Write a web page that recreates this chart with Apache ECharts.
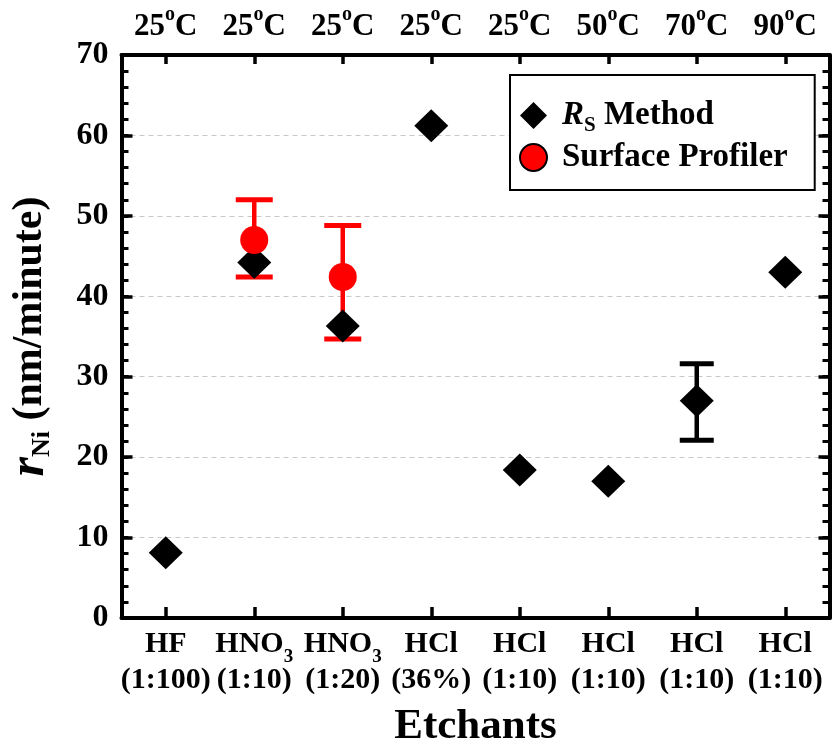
<!DOCTYPE html>
<html><head><meta charset="utf-8">
<script src="https://cdn.jsdelivr.net/npm/echarts@6/dist/echarts.min.js"></script>
<style>html,body{margin:0;padding:0;background:#fff}#c{width:833px;height:744px}</style>
</head><body><div id="c"></div>
<script>
// ---- data ----
const etchants = ['HF', 'HNO3', 'HNO3', 'HCl', 'HCl', 'HCl', 'HCl', 'HCl'];
const dilutions = ['(1:100)', '(1:10)', '(1:20)', '(36%)', '(1:10)', '(1:10)', '(1:10)', '(1:10)'];
const temperatures = [25, 25, 25, 25, 25, 50, 70, 90];
const rsMethod = [8.1, 44.2, 36.3, 61.2, 18.4, 17.0, 27.0, 43.0];
const rsErrIndex = [6];
const rsErrLow = [22.1];
const rsErrHigh = [31.6];
const profilerIndex = [1, 2];
const profiler = [47.0, 42.4];
const profilerErrLow = [42.4, 34.7];
const profilerErrHigh = [52.0, 48.8];
const yMin = 0, yMax = 70, yStep = 10, yMinorStep = 2;

const FONT = '"Liberation Serif", "Times New Roman", serif';
const cats = etchants.map((e, i) => String(i));

function errRender(color, capW) {
  return function (params, api) {
    const x = api.value(0), lo = api.value(1), hi = api.value(2);
    const a = api.coord([x, lo]), b = api.coord([x, hi]);
    const hw = capW / 2;
    const st = { stroke: color, lineWidth: 5 };
    return { type: 'group', children: [
      { type: 'line', shape: { x1: a[0], y1: a[1], x2: b[0], y2: b[1] }, style: { stroke: color, lineWidth: 4.5 } },
      { type: 'line', shape: { x1: a[0] - hw, y1: a[1], x2: a[0] + hw, y2: a[1] }, style: st },
      { type: 'line', shape: { x1: b[0] - hw, y1: b[1], x2: b[0] + hw, y2: b[1] }, style: st }
    ]};
  };
}

const chart = echarts.init(document.getElementById('c'), null, { renderer: 'canvas' });
const axisLineStyle = { color: '#000', width: 4 };
function minorAxis(pos) {
  return {
    type: 'value', min: yMin, max: yMax, interval: yMinorStep, position: pos,
    axisLine: { show: false, onZero: false },
    axisTick: { show: true, inside: true, length: 7, lineStyle: { color: '#000', width: 3 } },
    axisLabel: { show: false }, splitLine: { show: false }
  };
}
chart.setOption({
  animation: false,
  backgroundColor: '#fff',
  grid: { left: 121.5, right: 3.5, top: 55, bottom: 126, containLabel: false, outerBoundsMode: 'none' },
  xAxis: [
    {
      type: 'category', data: cats, position: 'bottom',
      axisLine: { show: true, onZero: false, lineStyle: axisLineStyle },
      axisTick: { show: true, inside: true, alignWithLabel: true, length: 11, lineStyle: { color: '#000', width: 3.5 } },
      axisLabel: {
        margin: 8, color: '#000', fontFamily: FONT, fontWeight: 'bold', fontSize: 30, lineHeight: 36, interval: 0,
        formatter: (v, i) => etchants[i].replace(/(\d+)/, '{sub|$1}') + '\n' + dilutions[i],
        rich: { sub: { fontFamily: FONT, fontWeight: 'bold', fontSize: 19, lineHeight: 36, padding: [26, 0, 0, 0], color: '#000' } }
      },
      name: 'Etchants', nameLocation: 'middle', nameGap: 87,
      nameTextStyle: { color: '#000', fontFamily: FONT, fontWeight: 'bold', fontSize: 43 },
      splitLine: { show: false }
    },
    {
      type: 'category', data: cats, position: 'top',
      axisLine: { show: true, onZero: false, lineStyle: axisLineStyle },
      axisTick: { show: true, inside: true, alignWithLabel: true, length: 9, lineStyle: { color: '#000', width: 3.5 } },
      axisLabel: {
        margin: 13, color: '#000', fontFamily: FONT, fontWeight: 'bold', fontSize: 31, interval: 0,
        formatter: (v, i) => temperatures[i] + '{sup|o}C',
        rich: { sup: { fontFamily: FONT, fontWeight: 'bold', fontSize: 20, lineHeight: 31, padding: [0, 0, 24, 0], color: '#000' } }
      },
      splitLine: { show: false }
    }
  ],
  yAxis: [
    {
      type: 'value', min: yMin, max: yMax, interval: yStep, position: 'left',
      axisLine: { show: true, onZero: false, lineStyle: axisLineStyle },
      axisTick: { show: true, inside: true, length: 11, lineStyle: { color: '#000', width: 3.5 } },
      axisLabel: { margin: 13, color: '#000', fontFamily: FONT, fontWeight: 'bold', fontSize: 32 },
      splitLine: { show: true, lineStyle: { color: '#c8c8c8', width: 1, type: [5, 4] } },
      name: '{i|r}{sub|Ni} (nm/minute)', nameLocation: 'middle', nameRotate: 90, nameGap: 68,
      nameTextStyle: {
        color: '#000', fontFamily: FONT, fontWeight: 'bold', fontSize: 42, lineHeight: 46,
        rich: {
          i: { fontFamily: FONT, fontWeight: 'bold', fontStyle: 'italic', fontSize: 50, lineHeight: 46, color: '#000' },
          sub: { fontFamily: FONT, fontWeight: 'bold', fontSize: 26, lineHeight: 46, padding: [24, 0, 0, 0], color: '#000' }
        }
      }
    },
    {
      type: 'value', min: yMin, max: yMax, interval: yStep, position: 'right',
      axisLine: { show: true, onZero: false, lineStyle: axisLineStyle },
      axisTick: { show: true, inside: true, length: 11, lineStyle: { color: '#000', width: 3.5 } },
      axisLabel: { show: false },
      splitLine: { show: false }
    },
    minorAxis('left'),
    minorAxis('right')
  ],
  legend: {
    orient: 'vertical', left: 510, top: 75,
    padding: [20, 27, 16, 9], itemGap: 5, itemWidth: 27, itemHeight: 27,
    borderColor: '#000', borderWidth: 2, backgroundColor: '#fff',
    data: [
      { name: 'RS Method', icon: 'diamond', itemStyle: { color: '#000', opacity: 1 } },
      { name: 'Surface Profiler', icon: 'circle', itemStyle: { color: '#ff0000', opacity: 1, borderColor: '#000', borderWidth: 2 } }
    ],
    formatter: n => n === 'RS Method' ? '{i|R}{s|S} Method' : n,
    textStyle: {
      color: '#000', fontFamily: FONT, fontWeight: 'bold', fontSize: 33, lineHeight: 30, padding: [0, 0, 0, 10],
      rich: {
        i: { fontFamily: FONT, fontWeight: 'bold', fontStyle: 'italic', fontSize: 33, lineHeight: 30, color: '#000' },
        s: { fontFamily: FONT, fontWeight: 'bold', fontSize: 21, lineHeight: 30, padding: [20, 0, 0, 0], color: '#000' }
      }
    }
  },
  series: [
    {
      name: 'RS Method', type: 'scatter', xAxisIndex: 0, yAxisIndex: 0,
      symbol: 'diamond', symbolSize: [34, 33], itemStyle: { color: '#000', opacity: 1 },
      data: rsMethod.map((v, i) => [i, v])
    },
    {
      name: 'rsErr', type: 'custom', xAxisIndex: 0, yAxisIndex: 0,
      renderItem: errRender('#000', 34), encode: { x: 0, y: [1, 2] },
      data: rsErrIndex.map((k, j) => [k, rsErrLow[j], rsErrHigh[j]])
    },
    {
      name: 'profErr', type: 'custom', xAxisIndex: 0, yAxisIndex: 0,
      renderItem: errRender('#ff0000', 37), encode: { x: 0, y: [1, 2] },
      data: profilerIndex.map((k, j) => [k, profilerErrLow[j], profilerErrHigh[j]])
    },
    {
      name: 'Surface Profiler', type: 'scatter', xAxisIndex: 0, yAxisIndex: 0,
      symbol: 'circle', symbolSize: 28, itemStyle: { color: '#ff0000', opacity: 1 },
      data: profilerIndex.map((k, j) => [k, profiler[j]])
    }
  ]
});
</script>
</body></html>
